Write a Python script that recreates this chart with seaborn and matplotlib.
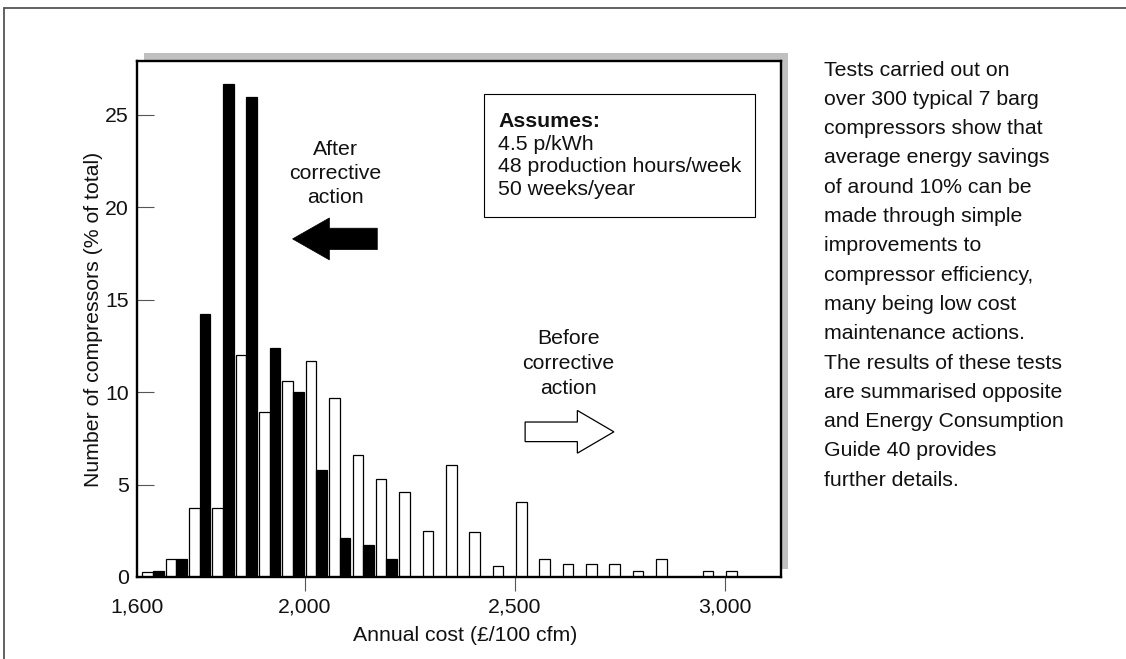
import numpy as np
import pandas as pd
import seaborn as sns
import matplotlib.pyplot as plt
from matplotlib.patches import Rectangle, FancyArrow
from matplotlib.lines import Line2D

W, H = 1126, 659

# midpoint of each annual cost band (GBP/100 cfm); bands are 500/9 wide
cost_bands = [1638.9, 1694.4, 1750.0, 1805.6, 1861.1, 1916.7, 1972.2, 2027.8,
              2083.3, 2138.9, 2194.4, 2250.0, 2305.6, 2361.1, 2416.7, 2472.2,
              2527.8, 2583.3, 2638.9, 2694.4, 2750.0, 2805.6, 2861.1, 2916.7,
              2972.2, 3027.8]
# % of compressors in each band
before = [0.25, 1.0, 3.75, 3.75, 12.0, 8.9, 10.6, 11.7, 9.7, 6.6, 5.3, 4.6, 2.5,
          6.05, 2.45, 0.6, 4.05, 1.0, 0.7, 0.7, 0.7, 0.3, 1.0, 0.0, 0.3, 0.3]
after = [0.3, 1.0, 14.2, 26.65, 25.95, 12.4, 10.0, 5.8, 2.1, 1.75, 1.0, 0.0, 0.0,
         0.0, 0.0, 0.0, 0.0, 0.0, 0.0, 0.0, 0.0, 0.0, 0.0, 0.0, 0.0, 0.0]

x_ticks = [1600, 2000, 2500, 3000]
x_tick_labels = ["1,600", "2,000", "2,500", "3,000"]
y_ticks = [0, 5, 10, 15, 20, 25]

assumptions = ["4.5 p/kWh", "48 production hours/week", "50 weeks/year"]
side_note = ["Tests carried out on",
             "over 300 typical 7 barg",
             "compressors show that",
             "average energy savings",
             "of around 10% can be",
             "made through simple",
             "improvements to",
             "compressor efficiency,",
             "many being low cost",
             "maintenance actions.",
             "The results of these tests",
             "are summarised opposite",
             "and Energy Consumption",
             "Guide 40 provides",
             "further details."]

df = pd.DataFrame({
    "cost": cost_bands * 2,
    "pct": before + after,
    "when": ["Before"] * len(before) + ["After"] * len(after),
})

sns.set_style("white")
plt.rcParams["font.family"] = ["Liberation Sans", "DejaVu Sans"]
FS = 15.3
TXT = "#111111"

fig = plt.figure(figsize=(W / 100, H / 100), dpi=100)
ax = fig.add_axes([136.7 / W, 1 - 577 / H, (780.5 - 136.7) / W, (577 - 61) / H])

sns.barplot(data=df, x="cost", y="pct", hue="when", hue_order=["Before", "After"],
            palette={"Before": "white", "After": "black"}, native_scale=True,
            orient="x", width=0.91, errorbar=None, edgecolor="black",
            linewidth=0.9, legend=False, ax=ax)

ax.set_xlim(1600, 3132)
ax.set_ylim(0, 27.9)
ax.set_xticks(x_ticks)
ax.set_xticklabels(x_tick_labels)
ax.set_yticks(y_ticks)
ax.tick_params(axis="y", direction="in", length=12.5, width=0.8, color="#555555",
               pad=5.8, labelsize=FS, labelcolor=TXT, left=True)
ax.tick_params(axis="x", direction="out", length=10, width=0.8, color="#555555",
               pad=4.5, labelsize=FS, labelcolor=TXT, bottom=True)
# no tick mark under the corner at 1,600
ax.xaxis.get_major_ticks()[0].tick1line.set_visible(False)
for s in ax.spines.values():
    s.set_color("black")
    s.set_linewidth(1.7)
    s.set_visible(True)

ax.set_xlabel("Annual cost (£/100 cfm)", fontsize=FS, color=TXT)
ax.set_ylabel("Number of compressors (% of total)", fontsize=FS, color=TXT)
ax.xaxis.set_label_coords(0.511, -0.094)
ax.yaxis.set_label_coords(-0.052, 0.5)

# grey drop shadow behind the plot frame
fig.patches.append(Rectangle((144 / W, 1 - 569 / H), (788 - 144) / W, (569 - 53) / H,
                             transform=fig.transFigure, facecolor="#c0c0c0",
                             edgecolor="none", zorder=-1))
# outer page frame
fig.add_artist(Line2D([3.5 / W, 3.5 / W], [0, 1 - 8 / H], transform=fig.transFigure,
                      color="#555555", lw=1.3))
fig.add_artist(Line2D([3.5 / W, 1], [1 - 8 / H, 1 - 8 / H], transform=fig.transFigure,
                      color="#555555", lw=1.3))

# arrows and their labels
ax.add_patch(FancyArrow(2172.5, 18.28, -201.7, 0, width=1.16, head_width=2.27,
                        head_length=87.8, length_includes_head=True,
                        facecolor="black", edgecolor="black", lw=0.5))
ax.add_patch(FancyArrow(2524.3, 7.85, 211.2, 0, width=1.06, head_width=2.31,
                        head_length=86.9, length_includes_head=True,
                        facecolor="white", edgecolor="black", lw=0.9))
for i, line in enumerate(["After", "corrective", "action"]):
    ax.text(2073, 23.12 - i * 1.3, line, ha="center", va="center", fontsize=FS, color=TXT)
for i, line in enumerate(["Before", "corrective", "action"]):
    ax.text(2628, 12.91 - i * 1.37, line, ha="center", va="center", fontsize=FS, color=TXT)

# assumptions box
ax.add_patch(Rectangle((2427, 19.45), 645, 6.64, facecolor="white",
                       edgecolor="black", lw=0.8, zorder=3))
ax.text(2460, 24.61, "Assumes:", ha="left", va="center", fontsize=FS,
        fontweight="bold", color=TXT, zorder=4)
for i, line in enumerate(assumptions):
    ax.text(2460, 23.39 - i * 1.215, line, ha="left", va="center", fontsize=FS,
            color=TXT, zorder=4)

# side note on the right
for i, line in enumerate(side_note):
    fig.text(824 / W, 1 - (70 + i * 29.3) / H, line, ha="left", va="center",
             fontsize=FS, color=TXT)

fig.savefig("out.png", dpi=100, facecolor="white")
